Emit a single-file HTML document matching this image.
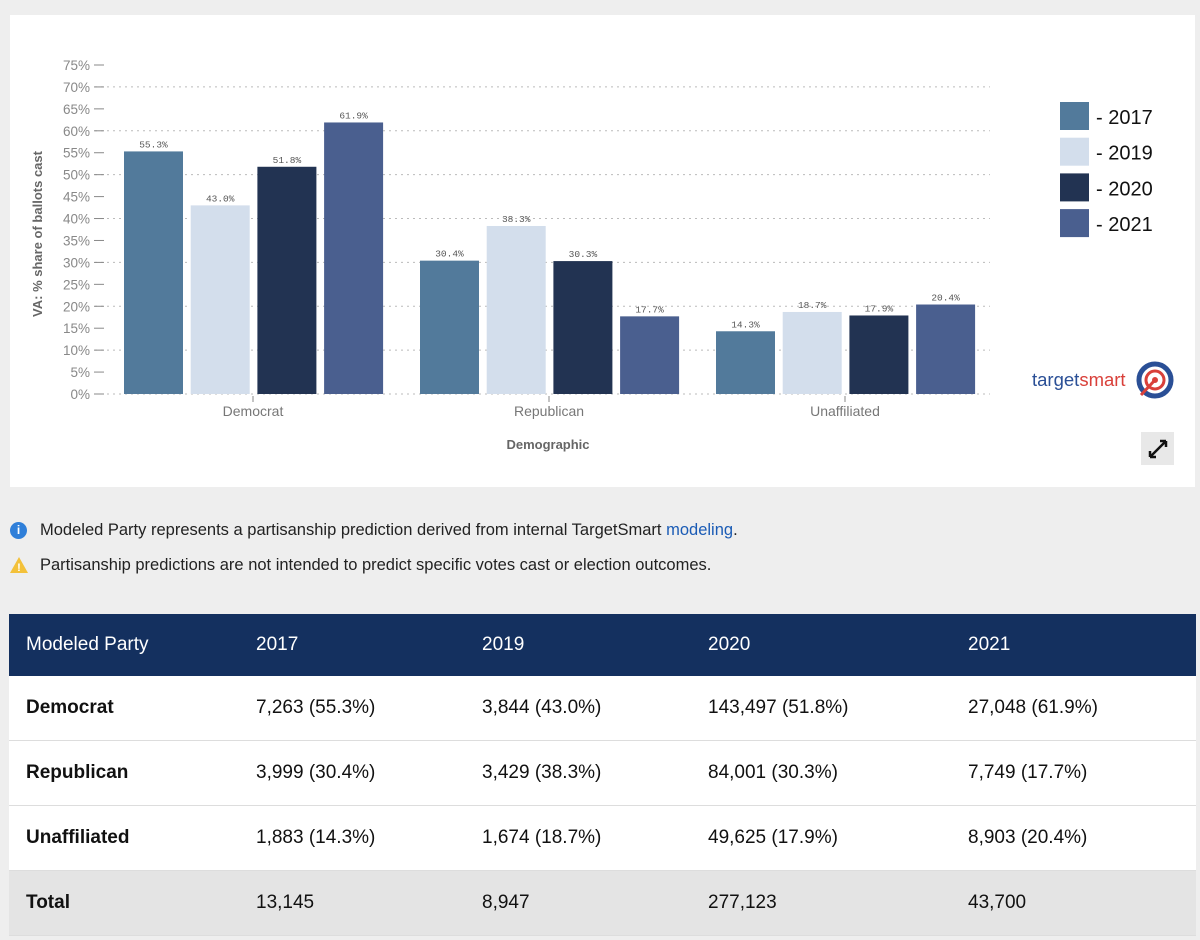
<!DOCTYPE html>
<html><head><meta charset="utf-8"><style>
body{margin:0;width:1200px;height:940px;background:#eeeeee;font-family:"Liberation Sans",sans-serif;position:relative;overflow:hidden}
.card{position:absolute;left:10px;top:15px;width:1185px;height:472px;background:#fff}
.note{position:absolute;left:40px;font-size:16.5px;color:#222}
table{position:absolute;left:9px;top:614px;width:1187px;border-collapse:collapse;font-size:19px;color:#111}
th{background:#14305f;color:#fff;font-weight:normal;text-align:left;height:62px;padding:0}
td{height:64px;padding:0;border-bottom:1px solid #ddd;background:#fff}
td:first-child,th:first-child{padding-left:17px}
tr.tot td{background:#e4e4e4}
</style></head><body>
<div class="card"></div>
<svg id="chart" width="1200" height="490" style="position:absolute;left:0;top:0"></svg>
<div class="note" style="top:521px"><span style="position:absolute;left:-30px;top:1px;width:17px;height:17px;border-radius:50%;background:#2f7fd9;color:#fff;font-size:12px;text-align:center;line-height:17px;font-weight:bold">i</span>Modeled Party represents a partisanship prediction derived from internal TargetSmart <span style="color:#1a5bb5">modeling</span>.</div>
<div class="note" style="top:556px"><svg style="position:absolute;left:-31px;top:0" width="20" height="18"><polygon points="10,1 19,17 1,17" fill="#f3c13a"/><text x="10" y="15" font-size="11" text-anchor="middle" fill="#fff" font-weight="bold">!</text></svg>Partisanship predictions are not intended to predict specific votes cast or election outcomes.</div>
<table>
<tr><th style="width:230px">Modeled Party</th><th style="width:226px">2017</th><th style="width:226px">2019</th><th style="width:260px">2020</th><th>2021</th></tr>
<tr><td><b>Democrat</b></td><td>7,263 (55.3%)</td><td>3,844 (43.0%)</td><td>143,497 (51.8%)</td><td>27,048 (61.9%)</td></tr>
<tr><td><b>Republican</b></td><td>3,999 (30.4%)</td><td>3,429 (38.3%)</td><td>84,001 (30.3%)</td><td>7,749 (17.7%)</td></tr>
<tr><td><b>Unaffiliated</b></td><td>1,883 (14.3%)</td><td>1,674 (18.7%)</td><td>49,625 (17.9%)</td><td>8,903 (20.4%)</td></tr>
<tr class="tot"><td><b>Total</b></td><td>13,145</td><td>8,947</td><td>277,123</td><td>43,700</td></tr>
</table>
<script>
const categories=["Democrat","Republican","Unaffiliated"];
const years=["2017","2019","2020","2021"];
const v2017=[55.3,30.4,14.3];
const v2019=[43.0,38.3,18.7];
const v2020=[51.8,30.3,17.9];
const v2021=[61.9,17.7,20.4];
const yTicks=[0,5,10,15,20,25,30,35,40,45,50,55,60,65,70,75];
const series=[v2017,v2019,v2020,v2021];
const colors=["#527a9b","#d3deec","#223352","#4a5f8f"];
const NS="http://www.w3.org/2000/svg";
const svg=document.getElementById('chart');
const y0=394,pxPer=329/75,plotL=95,plotR=990,band=296,catStart=105;
const Y=v=>y0-v*pxPer;
const X=i=>catStart+band*i;
function mk(t,a,txt){const e=document.createElementNS(NS,t);for(const k in a)e.setAttribute(k,a[k]);if(txt!=null)e.textContent=txt;svg.appendChild(e);return e;}
yTicks.forEach(t=>{
 const y=Y(t);
 if(t%10===0){const g=mk('line',{x1:plotL,x2:plotR,y1:y,y2:y,stroke:'#bbb','stroke-dasharray':'2,4'});}
 const tk=mk('line',{x1:94,x2:104,y1:y,y2:y,stroke:'#888'});
 
 const l=mk('text',{x:90,y:y+5,'text-anchor':'end','font-size':13.5,fill:'#888'},t+'%');
 
});
categories.forEach((c,i)=>{
 const cx=X(i)+148;
 mk('line',{x1:cx,x2:cx,y1:y0+2,y2:y0+8,stroke:'#888'});
 const l=mk('text',{x:cx,y:416,'text-anchor':'middle','font-size':14,fill:'#777'},c);
 
 series.forEach((s,j)=>{
  const bx=X(i)+19+j*66.7,v=s[i];
  const r=mk('rect',{x:bx,y:Y(v),width:59,height:v*pxPer,fill:colors[j]});
  
  
  const t=mk('text',{x:bx+29.5,y:Y(v)-4,'text-anchor':'middle','font-size':9.5,fill:'#555','font-family':'Liberation Mono,monospace'},v.toFixed(1)+'%');
  
 });
});
const xt=mk('text',{x:548,y:449,'text-anchor':'middle','font-size':13,'font-weight':'bold',fill:'#666'},'Demographic');

const yt=mk('text',{x:0,y:0,transform:'translate(42,234) rotate(-90)','text-anchor':'middle','font-size':13,'font-weight':'bold',fill:'#666'},'VA: % share of ballots cast');

years.forEach((yr,j)=>{
 const y=102+j*35.7;
 const r=mk('rect',{x:1060,y:y,width:29,height:28,fill:colors[j]});
 
 const t=mk('text',{x:1096,y:y+22,'font-size':20,fill:'#111'},'- '+yr);
 
});
const lg=mk('text',{x:1032,y:386,'font-size':18.5,fill:'#2a4f96'});
lg.innerHTML='target<tspan fill="#d9403a">smart</tspan>';

mk('circle',{cx:1155,cy:380,r:16,fill:'none',stroke:'#2a4f96','stroke-width':5});
mk('circle',{cx:1155,cy:380,r:9,fill:'none',stroke:'#d9403a','stroke-width':3});
mk('circle',{cx:1155,cy:380,r:3,fill:'#d9403a'});
mk('line',{x1:1141,y1:395,x2:1155,y2:380,stroke:'#d9403a','stroke-width':3});
const eb=mk('rect',{x:1141,y:432,width:33,height:33,fill:'#e8e8e8'});

mk('path',{d:'M1150 457 L1166 441 M1150 457 l0 -6 M1150 457 l6 0 M1166 441 l-6 0 M1166 441 l0 6',stroke:'#111','stroke-width':2.5,fill:'none'});
</script>
</body></html>
